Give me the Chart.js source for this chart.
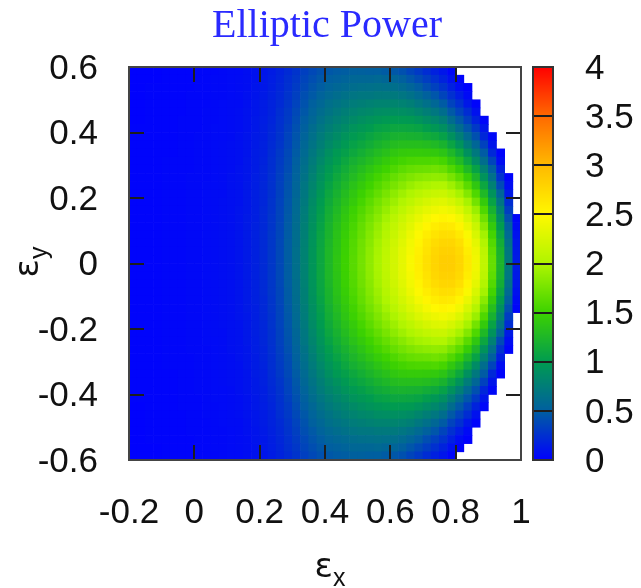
<!DOCTYPE html>
<html>
<head>
<meta charset="utf-8">
<title>Elliptic Power</title>
<script src="https://cdn.jsdelivr.net/npm/chart.js@4.4.1/dist/chart.umd.min.js"></script>
<style>
  html, body { margin: 0; padding: 0; background: #fff; }
  #wrap { width: 641px; height: 588px; }
</style>
</head>
<body>
<div id="wrap"><canvas id="chart" width="641" height="588"></canvas></div>
<script>
// cell centres, cell size 0.025 in both directions
const xCenters = [-0.1875,-0.1625,-0.1375,-0.1125,-0.0875,-0.0625,-0.0375,-0.0125,
  0.0125,0.0375,0.0625,0.0875,0.1125,0.1375,0.1625,0.1875,0.2125,0.2375,0.2625,0.2875,
  0.3125,0.3375,0.3625,0.3875,0.4125,0.4375,0.4625,0.4875,0.5125,0.5375,0.5625,0.5875,
  0.6125,0.6375,0.6625,0.6875,0.7125,0.7375,0.7625,0.7875,0.8125,0.8375,0.8625,0.8875,
  0.9125,0.9375,0.9625,0.9875];
const yCenters = [-0.5875,-0.5625,-0.5375,-0.5125,-0.4875,-0.4625,-0.4375,-0.4125,
  -0.3875,-0.3625,-0.3375,-0.3125,-0.2875,-0.2625,-0.2375,-0.2125,-0.1875,-0.1625,
  -0.1375,-0.1125,-0.0875,-0.0625,-0.0375,-0.0125,0.0125,0.0375,0.0625,0.0875,0.1125,
  0.1375,0.1625,0.1875,0.2125,0.2375,0.2625,0.2875,0.3125,0.3375,0.3625,0.3875,0.4125,
  0.4375,0.4625,0.4875,0.5125,0.5375,0.5625,0.5875];
const cellHalf = 0.0125;

// power x100, one array per eps_x column, bottom to top.
// columns near eps_x = 1 are shorter (cells outside the unit disk are empty), centred on eps_y = 0
const powerCols = [
  [1,1,1,1,1,1,1,2,2,2,2,2,2,2,2,2,2,2,2,2,2,2,2,2, 2,2,2,2,2,2,2,2,2,2,2,2,2,2,2,2,2,1,1,1,1,1,1,1],
  [1,1,1,1,1,1,1,2,2,2,2,2,2,2,2,2,2,2,2,2,2,2,2,2, 2,2,2,2,2,2,2,2,2,2,2,2,2,2,2,2,2,1,1,1,1,1,1,1],
  [1,1,2,2,2,2,2,2,2,2,2,2,2,2,2,2,2,2,2,2,2,2,2,2, 2,2,2,2,2,2,2,2,2,2,2,2,2,2,2,2,2,2,2,2,2,2,1,1],
  [1,1,2,2,2,2,2,2,2,2,2,2,2,2,2,2,2,2,2,2,2,2,2,2, 2,2,2,2,2,2,2,2,2,2,2,2,2,2,2,2,2,2,2,2,2,2,1,1],
  [2,2,2,2,2,2,2,2,2,2,2,3,3,3,3,3,3,3,3,3,3,3,3,3, 3,3,3,3,3,3,3,3,3,3,3,3,3,2,2,2,2,2,2,2,2,2,2,2],
  [2,2,2,2,2,2,2,2,2,2,2,3,3,3,3,3,3,3,3,3,3,3,3,3, 3,3,3,3,3,3,3,3,3,3,3,3,3,2,2,2,2,2,2,2,2,2,2,2],
  [2,2,2,2,2,2,3,3,3,3,3,3,3,3,3,3,3,3,3,3,3,3,3,3, 3,3,3,3,3,3,3,3,3,3,3,3,3,3,3,3,3,3,2,2,2,2,2,2],
  [2,2,2,3,3,3,3,3,3,3,3,3,3,4,4,4,4,4,4,4,4,4,4,4, 4,4,4,4,4,4,4,4,4,4,4,3,3,3,3,3,3,3,3,3,3,2,2,2],
  [3,3,3,3,3,3,3,3,4,4,4,4,4,4,4,4,4,4,4,4,4,4,4,4, 4,4,4,4,4,4,4,4,4,4,4,4,4,4,4,4,3,3,3,3,3,3,3,3],
  [3,3,3,3,3,4,4,4,4,4,4,4,4,4,5,5,5,5,5,5,5,5,5,5, 5,5,5,5,5,5,5,5,5,5,4,4,4,4,4,4,4,4,4,3,3,3,3,3],
  [3,4,4,4,4,4,4,5,5,5,5,5,5,5,5,6,6,6,6,6,6,6,6,6, 6,6,6,6,6,6,6,6,6,5,5,5,5,5,5,5,5,4,4,4,4,4,4,3],
  [4,4,4,4,5,5,5,5,5,6,6,6,6,6,6,6,7,7,7,7,7,7,7,7, 7,7,7,7,7,7,7,7,6,6,6,6,6,6,6,5,5,5,5,5,4,4,4,4],
  [5,5,5,5,6,6,6,6,6,7,7,7,7,8,8,8,8,8,8,8,8,8,8,8, 8,8,8,8,8,8,8,8,8,8,8,7,7,7,7,6,6,6,6,6,5,5,5,5],
  [5,6,6,6,6,7,7,7,8,8,8,8,9,9,9,9,9,10,10,10,10,10,10,10, 10,10,10,10,10,10,10,9,9,9,9,9,8,8,8,8,7,7,7,6,6,6,6,5],
  [7,7,7,8,8,9,9,9,10,10,10,11,11,11,12,12,12,12,13,13,13,13,13,13, 13,13,13,13,13,13,12,12,12,12,11,11,11,10,10,10,9,9,9,8,8,7,7,7],
  [9,9,10,10,11,11,12,12,13,13,14,14,14,15,15,16,16,16,16,17,17,17,17,17, 17,17,17,17,17,16,16,16,16,15,15,14,14,14,13,13,12,12,11,11,10,10,9,9],
  [11,12,12,13,14,14,15,16,16,17,17,18,19,19,20,20,20,21,21,21,22,22,22,22, 22,22,22,22,21,21,21,20,20,20,19,19,18,17,17,16,16,15,14,14,13,12,12,11],
  [14,15,16,17,18,18,19,20,21,22,23,24,24,25,26,26,27,27,28,28,29,29,29,29, 29,29,29,29,28,28,27,27,26,26,25,24,24,23,22,21,20,19,18,18,17,16,15,14],
  [18,19,20,21,22,24,25,26,27,28,30,31,32,33,34,34,35,36,36,37,37,38,38,38, 38,38,38,37,37,36,36,35,34,34,33,32,31,30,28,27,26,25,24,22,21,20,19,18],
  [22,24,25,27,28,30,31,33,35,36,38,39,40,42,43,44,45,46,47,48,48,49,49,49, 49,49,49,48,48,47,46,45,44,43,42,40,39,38,36,35,33,31,30,28,27,25,24,22],
  [27,29,31,33,35,38,40,42,44,46,48,50,52,53,55,56,58,59,60,61,62,62,63,63, 63,63,62,62,61,60,59,58,56,55,53,52,50,48,46,44,42,40,38,35,33,31,29,27],
  [33,36,38,41,43,46,49,51,54,57,59,62,64,66,69,70,72,74,75,77,77,78,79,79, 79,79,78,77,77,75,74,72,70,69,66,64,62,59,57,54,51,49,46,43,41,38,36,33],
  [38,41,44,47,51,54,57,61,64,67,70,73,76,79,82,84,87,89,90,92,93,94,95,95, 95,95,94,93,92,90,89,87,84,82,79,76,73,70,67,64,61,57,54,51,47,44,41,38],
  [42,46,49,53,57,61,65,69,73,76,80,84,88,91,94,97,100,102,104,106,108,109,110,110, 110,110,109,108,106,104,102,100,97,94,91,88,84,80,76,73,69,65,61,57,53,49,46,42],
  [46,50,54,58,63,67,72,76,81,85,90,94,98,102,106,110,113,116,118,121,122,124,125,125, 125,125,124,122,121,118,116,113,110,106,102,98,94,90,85,81,76,72,67,63,58,54,50,46],
  [48,52,57,62,67,72,77,82,87,92,98,102,107,112,116,120,124,127,130,133,135,136,137,138, 138,137,136,135,133,130,127,124,120,116,112,107,102,98,92,87,82,77,72,67,62,57,52,48],
  [49,54,59,65,70,76,81,87,93,98,104,110,115,120,125,130,134,138,141,144,146,148,149,150, 150,149,148,146,144,141,138,134,130,125,120,115,110,104,98,93,87,81,76,70,65,59,54,49],
  [51,57,62,68,74,80,86,93,99,105,111,118,124,129,135,140,144,149,152,155,158,160,161,162, 162,161,160,158,155,152,149,144,140,135,129,124,118,111,105,99,93,86,80,74,68,62,57,51],
  [51,57,63,70,76,83,90,97,103,110,117,124,131,137,143,149,154,159,163,167,169,172,173,174, 174,173,172,169,167,163,159,154,149,143,137,131,124,117,110,103,97,90,83,76,70,63,57,51],
  [50,57,64,70,78,85,93,100,108,115,123,130,138,145,151,158,164,169,174,178,181,183,185,186, 186,185,183,181,178,174,169,164,158,151,145,138,130,123,115,108,100,93,85,78,70,64,57,50],
  [50,58,65,72,80,88,96,105,113,121,129,137,145,153,160,167,174,179,184,189,192,195,197,198, 198,197,195,192,189,184,179,174,167,160,153,145,137,129,121,113,105,96,88,80,72,65,58,50],
  [48,56,64,72,80,89,98,107,116,125,134,143,151,160,168,176,183,189,195,200,204,207,209,210, 210,209,207,204,200,195,189,183,176,168,160,151,143,134,125,116,107,98,89,80,72,64,56,48],
  [46,55,63,72,81,90,100,110,120,130,140,149,158,168,176,185,192,199,206,211,215,219,221,222, 222,221,219,215,211,206,199,192,185,176,168,158,149,140,130,120,110,100,90,81,72,63,55,46],
  [42,51,60,69,79,89,99,110,121,132,143,153,164,174,183,193,201,209,216,222,226,230,233,234, 234,233,230,226,222,216,209,201,193,183,174,164,153,143,132,121,110,99,89,79,69,60,51,42],
  [36,45,55,65,76,87,98,109,120,132,144,156,168,179,190,200,209,218,226,232,238,242,244,246, 246,244,242,238,232,226,218,209,200,190,179,168,156,144,132,120,109,98,87,76,65,55,45,36],
  [30,39,49,59,70,82,94,107,119,132,144,157,170,183,195,206,217,227,235,243,249,253,256,258, 258,256,253,249,243,235,227,217,206,195,183,170,157,144,132,119,107,94,82,70,59,49,39,30],
  [23,32,41,52,64,76,88,102,115,130,143,157,171,185,198,211,223,234,244,252,259,264,267,269, 269,267,264,259,252,244,234,223,211,198,185,171,157,143,130,115,102,88,76,64,52,41,32,23],
  [17,25,34,45,57,70,83,97,112,127,142,158,173,187,201,215,228,239,250,259,266,272,276,278, 278,276,272,266,259,250,239,228,215,201,187,173,158,142,127,112,97,83,70,57,45,34,25,17],
  [11,18,27,36,48,62,76,90,105,121,137,154,170,186,202,216,230,242,253,263,271,277,281,283, 283,281,277,271,263,253,242,230,216,202,186,170,154,137,121,105,90,76,62,48,36,27,18,11],
  [3,9,17,25,35,47,61,76,92,108,125,141,159,176,193,209,224,238,251,261,270,277,281,283, 283,281,277,270,261,251,238,224,209,193,176,159,141,125,108,92,76,61,47,35,25,17,9,3],
  [2,7,15,25,35,47,61,77,93,111,128,146,164,181,197,214,228,242,253,262,270,275,277, 277,275,270,262,253,242,228,214,197,181,164,146,128,111,93,77,61,47,35,25,15,7,2],
  [1,5,12,23,33,45,59,74,91,109,127,146,163,181,197,212,225,237,247,254,259,262, 262,259,254,247,237,225,212,197,181,163,146,127,109,91,74,59,45,33,23,12,5,1],
  [2,9,18,30,42,56,71,87,106,123,140,158,174,191,204,216,225,233,239,241, 241,239,233,225,216,204,191,174,158,140,123,106,87,71,56,42,30,18,9,2],
  [3,11,20,34,48,62,78,93,110,126,143,158,172,184,195,202,208,210, 210,208,202,195,184,172,158,143,126,110,93,78,62,48,34,20,11,3],
  [4,11,21,36,50,64,78,93,107,120,132,143,153,160,165,168, 168,165,160,153,143,132,120,107,93,78,64,50,36,21,11,4],
  [2,7,17,27,39,55,68,80,91,101,109,116,121,123, 123,121,116,109,101,91,80,68,55,39,27,17,7,2],
  [2,7,13,23,32,42,51,59,65,70,72, 72,70,65,59,51,42,32,23,13,7,2],
  [3,6,9,12,13,14, 14,13,12,9,6,3]
];

const xTickValues = [-0.2, 0, 0.2, 0.4, 0.6, 0.8, 1];
const xTickLabels = ['-0.2', '0', '0.2', '0.4', '0.6', '0.8', '1'];
const yTickValues = [-0.6, -0.4, -0.2, 0, 0.2, 0.4, 0.6];
const yTickLabels = ['-0.6', '-0.4', '-0.2', '0', '0.2', '0.4', '0.6'];
const cbTickValues = [0, 0.5, 1, 1.5, 2, 2.5, 3, 3.5, 4];
const cbTickLabels = ['0', '0.5', '1', '1.5', '2', '2.5', '3', '3.5', '4'];

// palette, blue -> green -> yellow -> red
const paletteStops = [0, 0.5, 1, 1.5, 2, 2.5, 3, 3.5, 4];
const paletteRGB = [[0,0,255],[0,95,160],[0,155,80],[60,210,0],[175,245,0],
  [255,248,0],[255,185,0],[255,105,0],[255,0,0]];

function colorFor(v) {
  v = Math.max(paletteStops[0], Math.min(paletteStops[paletteStops.length - 1], v));
  let k = 0;
  while (k < paletteStops.length - 2 && v > paletteStops[k + 1]) k++;
  const t = (v - paletteStops[k]) / (paletteStops[k + 1] - paletteStops[k]);
  const a = paletteRGB[k], b = paletteRGB[k + 1];
  const c = [0, 1, 2].map(n => Math.round(a[n] + (b[n] - a[n]) * t));
  return 'rgb(' + c.join(',') + ')';
}

// one floating-bar dataset per eps_y row
const datasets = yCenters.map((yc, j) => {
  const data = [], colors = [];
  powerCols.forEach((col, i) => {
    const off = (yCenters.length - col.length) / 2;
    const v = col[j - off];
    if (j >= off && j < off + col.length) {
      data.push([yc - cellHalf, yc + cellHalf]);
      colors.push(colorFor(v / 100));
    } else {
      data.push(null);
      colors.push('rgba(0,0,0,0)');
    }
  });
  return {
    label: 'eps_y ' + yc,
    data: data,
    backgroundColor: colors,
    borderWidth: 0,
    xAxisID: 'xc',
    yAxisID: 'y'
  };
});

const tickFont = { family: 'Liberation Sans', size: 35 };

function drawSubscripted(ctx, x, y, angle, main, sub) {
  ctx.save();
  ctx.translate(x, y);
  ctx.rotate(angle);
  ctx.fillStyle = '#111';
  ctx.textAlign = 'left';
  ctx.textBaseline = 'alphabetic';
  ctx.font = '34px "DejaVu Sans"';
  const wm = ctx.measureText(main).width;
  ctx.font = '25px "Liberation Sans"';
  const ws = ctx.measureText(sub).width;
  const start = -(wm + ws) / 2;
  ctx.font = '34px "DejaVu Sans"';
  ctx.fillText(main, start, 0);
  ctx.font = '25px "Liberation Sans"';
  ctx.fillText(sub, start + wm, 9);
  ctx.restore();
}

const framePlugin = {
  id: 'frameAndColorbox',
  afterDatasetsDraw(chart) {
    const { ctx, chartArea: a, scales } = chart;
    ctx.save();
    // inward tick marks on all four sides
    ctx.lineWidth = 2;
    ctx.strokeStyle = '#1e1e1e';
    ctx.beginPath();
    xTickValues.forEach(v => {
      const px = Math.round(scales.x.getPixelForValue(v));
      ctx.moveTo(px, a.bottom); ctx.lineTo(px, a.bottom - 15);
      ctx.moveTo(px, a.top); ctx.lineTo(px, a.top + 15);
    });
    yTickValues.forEach(v => {
      const py = Math.round(scales.y.getPixelForValue(v));
      ctx.moveTo(a.left, py); ctx.lineTo(a.left + 15, py);
      ctx.moveTo(a.right, py); ctx.lineTo(a.right - 15, py);
    });
    ctx.stroke();
    ctx.strokeStyle = '#444';
    ctx.strokeRect(a.left, a.top, a.right - a.left, a.bottom - a.top);

    // colour box
    const cb = scales.cb;
    const x0 = cb.left + 12, w = 20;
    for (let py = Math.floor(cb.top); py < Math.ceil(cb.bottom); py++) {
      ctx.fillStyle = colorFor(cb.getValueForPixel(py + 0.5));
      ctx.fillRect(x0, py, w, 1);
    }
    ctx.strokeStyle = '#1e1e1e';
    ctx.beginPath();
    cbTickValues.slice(1, -1).forEach(v => {
      const py = Math.round(cb.getPixelForValue(v));
      ctx.moveTo(x0, py); ctx.lineTo(x0 + w, py);
    });
    ctx.stroke();
    ctx.strokeStyle = '#333';
    ctx.strokeRect(x0, cb.top, w, cb.bottom - cb.top);
    ctx.restore();
  },
  afterDraw(chart) {
    const ctx = chart.ctx;
    const a = chart.chartArea;
    // title, centred over the plot box
    ctx.save();
    ctx.font = '40px "Liberation Serif"';
    ctx.fillStyle = '#2a2aff';
    ctx.textAlign = 'center';
    ctx.textBaseline = 'alphabetic';
    ctx.fillText('Elliptic Power', (a.left + a.right) / 2 + 2, 37);
    ctx.restore();
    drawSubscripted(ctx, 330, 577, 0, '\u03b5', 'x');
    drawSubscripted(ctx, 38, 262, -Math.PI / 2, '\u03b5', 'y');
  }
};

new Chart(document.getElementById('chart'), {
  type: 'bar',
  data: { labels: xCenters.map(String), datasets: datasets },
  options: {
    responsive: false,
    animation: false,
    devicePixelRatio: 1,
    events: [],
    layout: { autoPadding: false, padding: { top: 67, left: 0, right: 0, bottom: 0 } },
    datasets: {
      bar: { grouped: false, barPercentage: 1, categoryPercentage: 1 }
    },
    plugins: {
      legend: { display: false },
      tooltip: { enabled: false },
      title: { display: false }
    },
    scales: {
      xc: { type: 'category', display: false, offset: true },
      x: {
        type: 'linear', position: 'bottom', min: -0.2, max: 1, offset: false,
        afterFit(s) { s.height = 128; },
        afterBuildTicks(s) { s.ticks = xTickValues.map(v => ({ value: v })); },
        grid: { display: false, drawTicks: true, tickLength: 28 },
        border: { display: false },
        ticks: { font: tickFont, color: '#111', padding: 4, maxRotation: 0, autoSkip: false,
          callback: (v, i) => xTickLabels[i] }
      },
      y: {
        type: 'linear', position: 'left', min: -0.6, max: 0.6, offset: false,
        afterFit(s) { s.width = 129; },
        afterBuildTicks(s) { s.ticks = yTickValues.map(v => ({ value: v })); },
        grid: { display: false, drawTicks: true, tickLength: 27 },
        border: { display: false },
        ticks: { font: tickFont, color: '#111', padding: 4, labelOffset: 2, autoSkip: false,
          callback: (v, i) => yTickLabels[i] }
      },
      cb: {
        type: 'linear', axis: 'y', position: 'right', min: 0, max: 4, offset: false,
        afterFit(s) { s.width = 120; },
        afterBuildTicks(s) { s.ticks = cbTickValues.map(v => ({ value: v })); },
        grid: { display: false, drawTicks: true, tickLength: 60 },
        border: { display: false },
        ticks: { font: tickFont, color: '#111', padding: 4, labelOffset: 2, autoSkip: false,
          callback: (v, i) => cbTickLabels[i] }
      }
    }
  },
  plugins: [framePlugin]
});
</script>
</body>
</html>
